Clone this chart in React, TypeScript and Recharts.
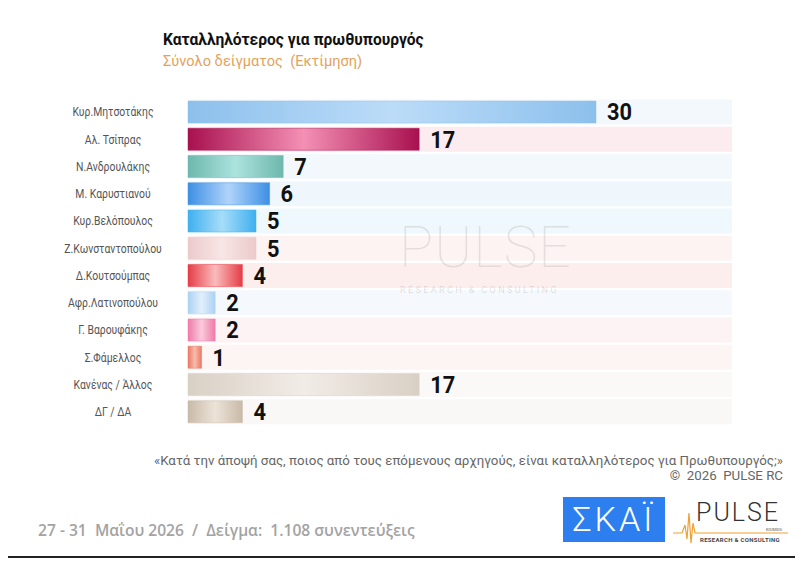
import React from "react";
import { BarChart, Bar, XAxis, YAxis, Cell, LabelList } from "recharts";

const candidates = [
  "Κυρ.Μητσοτάκης",
  "Αλ. Τσίπρας",
  "Ν.Ανδρουλάκης",
  "Μ. Καρυστιανού",
  "Κυρ.Βελόπουλος",
  "Ζ.Κωνσταντοπούλου",
  "Δ.Κουτσούμπας",
  "Αφρ.Λατινοπούλου",
  "Γ. Βαρουφάκης",
  "Σ.Φάμελλος",
  "Κανένας / Άλλος",
  "ΔΓ / ΔΑ",
];
const values = [30, 17, 7, 6, 5, 5, 4, 2, 2, 1, 17, 4];
const barEdge = [
  "#8cc0ec", "#a8104f", "#6db8ae", "#3d8fe4", "#3fb0ef", "#eccaca",
  "#e63c46", "#acd2f2", "#f07aa8", "#e87864", "#d9d0c5", "#c9baa8",
];
const barMid = [
  "#bcdcf8", "#f490b4", "#ace3dd", "#b0d4fa", "#a6ddf9", "#f8e6e6",
  "#f9bcbc", "#e2effb", "#f9cadb", "#f9bcac", "#f1ece6", "#ece3d8",
];
const bandColors = [
  "#f3f8fd", "#fcebef", "#f2f8fb", "#eff7fc", "#eef8fd", "#fdf3f3",
  "#fdeeee", "#f5f9fd", "#fdf2f4", "#fdf5f4", "#fbf9f7", "#faf8f6",
];

const data = candidates.map((name, i) => ({ name, value: values[i] }));

const YTick = (props: any) => {
  const { y, payload } = props;
  return (
    <g transform={`translate(113,${y}) scale(0.8,1)`}>
      <text x={0} y={0} dy="0.36em" textAnchor="middle" fontSize={13} fill="#555" fontFamily="Roboto, sans-serif">
        {payload.value}
      </text>
    </g>
  );
};

const BandBg = (props: any) => {
  const { x, y, width, height, index } = props;
  return <rect x={x} y={y - 1.5} width={width} height={height + 3} fill={bandColors[index]} />;
};

const ValueLabel = (props: any) => {
  const { x, y, width, height, value } = props;
  const lx = Number(x) + Number(width) + 11;
  const ly = Number(y) + Number(height) / 2;
  return (
    <g transform={`translate(${lx},${ly}) scale(0.94,1)`}>
      <text x={0} y={0} dy="0.36em" fontSize={23.2} fontWeight={700} fill="#111" fontFamily="Roboto, sans-serif">
        {value}
      </text>
    </g>
  );
};

export default function App() {
  return (
    <div style={{ position: "absolute", left: 0, top: 0, width: 811, height: 565, background: "#fff", overflow: "hidden" }}>
      <div style={{ position: "absolute", left: 163, top: 31, fontFamily: "Roboto, sans-serif", fontWeight: 700, fontSize: 15.6, color: "#111" }}>
        Καταλληλότερος για πρωθυπουργός
      </div>
      <div style={{ position: "absolute", left: 163, top: 52, fontFamily: "Roboto, sans-serif", fontSize: 14.6, color: "#e5a25a" }}>
        Σύνολο δείγματος&nbsp; (Εκτίμηση)
      </div>
      <BarChart
        width={811}
        height={565}
        layout="vertical"
        data={data}
        margin={{ top: 98, right: 79, bottom: 140, left: 0 }}
        style={{ position: "absolute", left: 0, top: 0 }}
      >
        <defs>
          {barEdge.map((c, i) => (
            <linearGradient key={i} id={`g${i}`} x1="0" y1="0" x2="1" y2="0">
              <stop offset="0%" stopColor={c} />
              <stop offset="50%" stopColor={barMid[i]} />
              <stop offset="100%" stopColor={c} />
            </linearGradient>
          ))}
        </defs>
        <XAxis type="number" domain={[0, 40]} hide />
        <YAxis type="category" dataKey="name" width={188} axisLine={false} tickLine={false} tick={<YTick />} interval={0} />
        <Bar dataKey="value" barSize={22} isAnimationActive={false} background={<BandBg />}>
          {data.map((_, i) => (
            <Cell key={i} fill={`url(#g${i})`} stroke={barEdge[i]} strokeOpacity={0.6} strokeWidth={0.8} />
          ))}
          <LabelList dataKey="value" content={<ValueLabel />} />
        </Bar>
      </BarChart>
      {/* watermark */}
      <div style={{ position: "absolute", left: 399, top: 219, fontFamily: "Roboto, sans-serif", fontWeight: 100, fontSize: 57, lineHeight: "57px", letterSpacing: 1, color: "rgba(120,120,120,0.18)" }}>
        PULSE
      </div>
      <div style={{ position: "absolute", left: 400, top: 285, fontFamily: "Roboto, sans-serif", fontSize: 9, lineHeight: "10px", letterSpacing: 2.4, color: "rgba(120,120,120,0.22)" }}>
        RESEARCH &amp; CONSULTING
      </div>
      <div style={{ position: "absolute", right: 28, top: 453, fontFamily: "Roboto, sans-serif", fontSize: 13.3, color: "#666", textAlign: "right", lineHeight: "15px", whiteSpace: "nowrap" }}>
        «Κατά την άποψή σας, ποιος από τους επόμενους αρχηγούς, είναι καταλληλότερος για Πρωθυπουργός;»
        <br />
        ©&nbsp; 2026&nbsp; PULSE RC
      </div>
      <div style={{ position: "absolute", left: 38, top: 519, fontFamily: "'Open Sans', sans-serif", fontWeight: 600, fontSize: 15.6, color: "#a3a3a3", whiteSpace: "pre" }}>
        {"27 - 31  Μαΐου 2026  /  Δείγμα:  1.108 συνεντεύξεις"}
      </div>
      {/* SKAI logo */}
      <div style={{ position: "absolute", left: 563, top: 497, width: 102, height: 45, background: "#2d7ff0", color: "#fff", fontFamily: "Roboto, sans-serif", fontWeight: 300, fontSize: 34, lineHeight: "45px", textAlign: "center", letterSpacing: 3 }}>
        ΣΚΑΪ
      </div>
      {/* PULSE logo */}
      <svg style={{ position: "absolute", left: 670, top: 495 }} width={130} height={52}>
        <polyline points="3,38 12,38 15,30 17,44 19,18 21,48 23,28 25,38 30,38 118,38" fill="none" stroke="#f0a030" strokeWidth={1.2} />
        <text x={26} y={26} fontFamily="Roboto, sans-serif" fontWeight={300} fontSize={25} fill="#333" letterSpacing={2}>PULSE</text>
        <text x={96} y={36} fontFamily="Roboto, sans-serif" fontSize={3.5} fill="#555">KOUMIDIS</text>
        <text x={30} y={47} fontFamily="Roboto, sans-serif" fontWeight={700} fontSize={6} fill="#444" letterSpacing={0.3}>RESEARCH &amp; CONSULTING</text>
      </svg>
      <div style={{ position: "absolute", left: 8, top: 556, width: 787, height: 1.5, background: "#222" }} />
    </div>
  );
}
